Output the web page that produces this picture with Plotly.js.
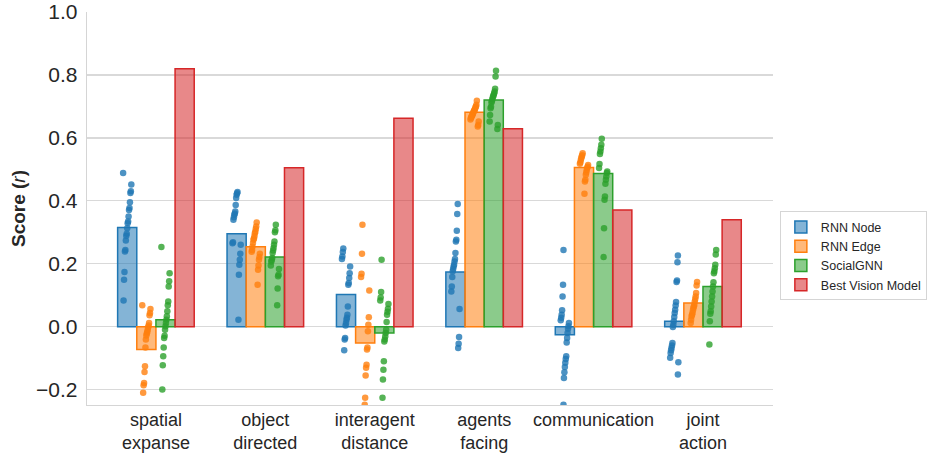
<!DOCTYPE html>
<html>
<head>
<meta charset="utf-8">
<script src="https://cdn.plot.ly/plotly-3.0.1.min.js"></script>
<style>html,body{margin:0;padding:0;background:#fff;}#chart{width:928px;height:454px;}</style>
</head>
<body>
<div id="chart"></div>
<script>
const categories = ['spatial<br>expanse', 'object<br>directed', 'interagent<br>distance', 'agents<br>facing', 'communication', 'joint<br>action'];
const seriesNames = ['RNN Node', 'RNN Edge', 'SocialGNN', 'Best Vision Model'];

// Bar heights (mean score per category)
const rnnNodeBar   = [0.315, 0.295, 0.102, 0.174, -0.026, 0.017];
const rnnEdgeBar   = [-0.073, 0.254, -0.052, 0.681, 0.506, 0.075];
const socialGnnBar = [0.022, 0.221, -0.020, 0.720, 0.487, 0.128];
const visionBar    = [0.820, 0.505, 0.662, 0.629, 0.371, 0.340];

// Individual run scores (strip points), per category
const rnnNodePoints = [
  [0.488, 0.452, 0.430, 0.425, 0.395, 0.377, 0.371, 0.350, 0.334, 0.329, 0.313, 0.295, 0.289, 0.274, 0.244, 0.239, 0.174, 0.149, 0.083],
  [0.428, 0.424, 0.419, 0.409, 0.387, 0.366, 0.360, 0.356, 0.348, 0.340, 0.268, 0.265, 0.260, 0.232, 0.213, 0.197, 0.165, 0.022],
  [0.248, 0.237, 0.223, 0.215, 0.191, 0.170, 0.155, 0.139, 0.133, 0.064, 0.038, 0.028, 0.022, 0.012, 0.004, -0.036, -0.041, -0.075],
  [0.390, 0.358, 0.305, 0.276, 0.271, 0.234, 0.215, 0.207, 0.197, 0.191, 0.183, 0.176, 0.158, 0.128, 0.112, 0.056, -0.033, -0.054, -0.068],
  [0.244, 0.133, 0.096, 0.052, 0.038, 0.028, 0.020, 0.012, 0.001, -0.007, -0.020, -0.036, -0.050, -0.094, -0.103, -0.115, -0.128, -0.145, -0.163, -0.248],
  [0.226, 0.205, 0.147, 0.142, 0.078, 0.067, 0.054, 0.043, 0.031, 0.017, 0.006, -0.001, -0.052, -0.060, -0.068, -0.075, -0.084, -0.099, -0.113, -0.152]
];
const rnnEdgePoints = [
  [0.068, 0.056, 0.043, 0.036, 0.012, 0.004, -0.002, -0.010, -0.017, -0.022, -0.028, -0.041, -0.066, -0.126, -0.144, -0.179, -0.186, -0.210],
  [0.331, 0.318, 0.310, 0.302, 0.297, 0.287, 0.280, 0.276, 0.266, 0.255, 0.244, 0.238, 0.232, 0.221, 0.213, 0.194, 0.181, 0.133],
  [0.324, 0.232, 0.168, 0.158, 0.115, 0.030, 0.006, -0.015, -0.066, -0.073, -0.121, -0.131, -0.155, -0.226, -0.248],
  [0.718, 0.705, 0.700, 0.697, 0.692, 0.689, 0.686, 0.684, 0.680, 0.676, 0.672, 0.670, 0.666, 0.663, 0.658, 0.652, 0.641, 0.636],
  [0.551, 0.545, 0.541, 0.535, 0.530, 0.522, 0.518, 0.514, 0.508, 0.504, 0.498, 0.490, 0.483, 0.467, 0.461, 0.422],
  [0.142, 0.131, 0.107, 0.096, 0.088, 0.080, 0.070, 0.064, 0.059, 0.052, 0.043, 0.038, 0.033, 0.022, 0.012]
];
const socialGnnPoints = [
  [0.253, 0.170, 0.144, 0.128, 0.080, 0.068, 0.049, 0.033, 0.022, 0.012, 0.001, -0.010, -0.029, -0.036, -0.066, -0.094, -0.123, -0.200],
  [0.324, 0.306, 0.300, 0.271, 0.260, 0.250, 0.242, 0.234, 0.218, 0.212, 0.207, 0.194, 0.183, 0.165, 0.160, 0.121, 0.068],
  [0.213, 0.110, 0.093, 0.083, 0.072, 0.057, 0.047, 0.038, 0.015, -0.010, -0.020, -0.031, -0.041, -0.047, -0.110, -0.137, -0.168, -0.226],
  [0.813, 0.795, 0.756, 0.747, 0.742, 0.737, 0.733, 0.729, 0.723, 0.717, 0.712, 0.699, 0.694, 0.673, 0.652, 0.641, 0.628],
  [0.597, 0.578, 0.567, 0.557, 0.549, 0.517, 0.504, 0.493, 0.488, 0.477, 0.467, 0.454, 0.414, 0.403, 0.313, 0.221],
  [0.244, 0.229, 0.197, 0.186, 0.176, 0.170, 0.141, 0.128, 0.112, 0.096, 0.080, 0.064, 0.049, 0.041, 0.017, -0.057]
];

const colors = ['#1f77b4', '#ff7f0e', '#2ca02c', '#d62728'];
const fills = ['rgba(31,119,180,0.55)', 'rgba(255,127,14,0.55)', 'rgba(44,160,44,0.55)', 'rgba(214,39,40,0.55)'];
const barValues = [rnnNodeBar, rnnEdgeBar, socialGnnBar, visionBar];
const pointSets = [rnnNodePoints, rnnEdgePoints, socialGnnPoints];

const catIdx = categories.map((c, i) => i);
const nSeries = 4;
const groupWidth = 0.7;
const barW = groupWidth / nSeries;

const traces = [];
barValues.forEach((vals, k) => {
  traces.push({
    type: 'bar', name: seriesNames[k], x: catIdx, y: vals,
    marker: {color: fills[k], line: {color: colors[k], width: 1.5}},
    hoverinfo: 'skip'
  });
});

pointSets.forEach((sets, k) => {
  const xs = [], ys = [];
  sets.forEach((arr, i) => {
    arr.forEach((v, j) => {
      const jitter = (((j * 37 + i * 11) % 19) / 18 - 0.5) * 0.075;
      xs.push(i + (k - (nSeries - 1) / 2) * barW + jitter);
      ys.push(v);
    });
  });
  traces.push({
    type: 'scatter', mode: 'markers', x: xs, y: ys, showlegend: false,
    marker: {color: colors[k], size: 6.5, opacity: 0.8, line: {width: 0}},
    hoverinfo: 'skip'
  });
});

const layout = {
  width: 928, height: 454,
  margin: {l: 87, r: 155, t: 12, b: 49, autoexpand: false},
  paper_bgcolor: '#ffffff', plot_bgcolor: '#ffffff',
  font: {family: '"Liberation Sans", Arial, sans-serif', color: '#262626'},
  barmode: 'group', bargap: 0.3, bargroupgap: 0,
  xaxis: {
    range: [-0.63, 5.64], tickmode: 'array', tickvals: catIdx, ticktext: categories,
    showgrid: false, zeroline: false, showline: true, linecolor: '#d5d5d5', linewidth: 1.3,
    ticks: '', tickfont: {size: 18, color: '#262626'}, ticklabelstandoff: -2, automargin: false
  },
  yaxis: {
    range: [-0.249, 1.0], tickmode: 'array', tickvals: [-0.2, 0, 0.2, 0.4, 0.6, 0.8, 1.0],
    tickformat: '.1f', showgrid: true, gridcolor: '#d9d9d9', gridwidth: 1.3,
    zeroline: false, showline: true, linecolor: '#d5d5d5', linewidth: 1.3,
    ticks: '', tickfont: {size: 21, color: '#262626'}, ticklabelstandoff: 4, automargin: false,
    title: {text: '<b>Score (</b><i>r</i><b>)</b>', font: {size: 19, color: '#262626'}, standoff: 5}
  },
  legend: {
    x: 1.01, xanchor: 'left', y: 0.493, yanchor: 'top',
    bordercolor: '#d5d5d5', borderwidth: 1, bgcolor: '#ffffff',
    font: {size: 12.5, color: '#262626'}, tracegroupgap: 0
  },
  showlegend: true
};

Plotly.newPlot('chart', traces, layout, {staticPlot: true, displayModeBar: false});
</script>
</body>
</html>
